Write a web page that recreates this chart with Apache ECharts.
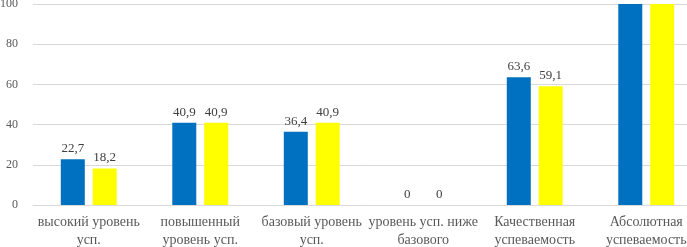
<!DOCTYPE html>
<html>
<head>
    <meta charset="utf-8">
    <title>Успеваемость</title>
    <script src="https://cdn.jsdelivr.net/npm/echarts@6/dist/echarts.min.js"></script>
    <style type="text/css">
        * {
            margin: 0;
            padding: 0;
        }
        body {
            background: #ffffff;
        }
        #main {
            width: 687px;
            height: 247px;
        }
    </style>
</head>
<body>
<div id="main"></div>
<script type="text/javascript">
    // категории (подписи оси X)
    var categories = [
        'высокий уровень\nусп.',
        'повышенный\nуровень усп.',
        'базовый уровень\nусп.',
        'уровень усп. ниже\nбазового',
        'Качественная\nуспеваемость',
        'Абсолютная\nуспеваемость'
    ];
    var seriesA = [22.7, 40.9, 36.4, 0, 63.6, 100]; // синий
    var seriesB = [18.2, 40.9, 40.9, 0, 59.1, 100]; // жёлтый
    var yTicks = [0, 20, 40, 60, 80, 100];

    var myChart = echarts.init(document.getElementById('main'));

    var serif = '"Liberation Serif", "Times New Roman", serif';

    // подпись с запятой вместо точки; 100 не подписано
    function labelFmt(p) {
        if (p.value >= 100) {
            return '';
        }
        return String(p.value).replace('.', ',');
    }

    var option = {
        animation: false,
        grid: {
            left: 33,
            top: 4,
            width: 669,
            bottom: 42,
            outerBoundsMode: 'none' // сетка выходит за правый край, как в оригинале
        },
        xAxis: {
            type: 'category',
            data: categories,
            axisLine: {
                lineStyle: {color: '#d9d9d9'}
            },
            axisTick: {show: false},
            axisLabel: {
                interval: 0,
                margin: 8,
                color: '#595959',
                fontFamily: serif,
                fontSize: 14,
                lineHeight: 18
            }
        },
        yAxis: {
            type: 'value',
            min: yTicks[0],
            max: yTicks[yTicks.length - 1],
            interval: yTicks[1] - yTicks[0],
            axisLine: {show: false},
            axisTick: {show: false},
            splitLine: {
                lineStyle: {color: '#d9d9d9'}
            },
            axisLabel: {
                margin: 15,
                color: '#595959',
                fontFamily: serif,
                fontSize: 12
            }
        },
        series: [{
            name: 'A',
            type: 'bar',
            data: seriesA,
            barWidth: 24,
            barGap: '33%',
            itemStyle: {color: '#0070c0'},
            label: {
                show: true,
                position: 'top',
                distance: 4,
                color: '#404040',
                fontFamily: serif,
                fontSize: 13,
                formatter: labelFmt
            }
        }, {
            name: 'B',
            type: 'bar',
            data: seriesB,
            barWidth: 24,
            itemStyle: {color: '#ffff00'},
            label: {
                show: true,
                position: 'top',
                distance: 4,
                color: '#404040',
                fontFamily: serif,
                fontSize: 13,
                formatter: labelFmt
            }
        }]
    };

    myChart.setOption(option);
</script>
</body>
</html>
